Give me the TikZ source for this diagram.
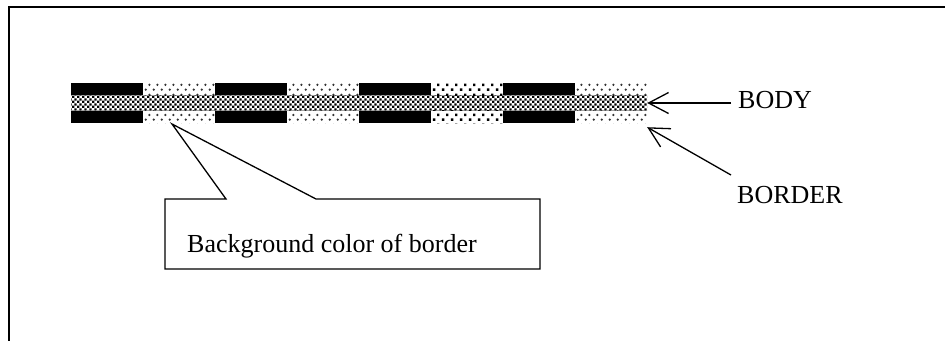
\documentclass[tikz,border=0pt]{standalone}
\usepackage{fontspec}
\setmainfont{Liberation Serif}
\usetikzlibrary{arrows.meta,patterns.meta}

% fine checkerboard of the body band
\tikzdeclarepattern{
  name=bodycheck, type=uncolored,
  bottom left={(0pt,0pt)}, top right={(5.2pt,5.2pt)}, tile size={(5.2pt,5.2pt)},
  code={\fill (0pt,0pt) rectangle (2.6pt,2.6pt);
        \fill (2.6pt,2.6pt) rectangle (5.2pt,5.2pt);}
}
% small soft dots of the border background
\tikzdeclarepattern{
  name=softdots, type=uncolored,
  bottom left={(0pt,0pt)}, top right={(8pt,10pt)}, tile size={(8pt,10pt)},
  code={\fill (2pt,2.5pt) circle (1.35pt);
        \fill (6pt,7.5pt) circle (1.35pt);}
}
% coarse square dots
\tikzdeclarepattern{
  name=squaredots, type=uncolored,
  bottom left={(0pt,0pt)}, top right={(9pt,10pt)}, tile size={(9pt,10pt)},
  code={\fill (1pt,1.2pt) rectangle (3.6pt,3.8pt);
        \fill (5.5pt,6.2pt) rectangle (8.1pt,8.8pt);}
}

\tikzset{
  frame/.style={line width=1.5pt},
  pointer/.style={line width=1.3pt, -{Straight Barb[length=20pt,width=21pt]}},
  callout/.style={line width=1.3pt, line join=miter},
  label/.style={inner sep=0pt, font=\fontsize{26}{30}\selectfont},
  darkbar/.style={fill=black},
  lightbar/.style={pattern={softdots}, pattern color=black!80},
  dotbar/.style={pattern={squaredots}, pattern color=black},
}

\begin{document}
\begin{tikzpicture}[x=1pt, y=-1pt]
  \useasboundingbox (0,0) rectangle (945,341);

  % outer frame (top and left edges)
  \draw[frame] (945,7) -- (9,7) -- (9,341);

  % the strip: alternating border segments above and below the body band
  \node[inner sep=0pt, minimum width=576pt, minimum height=40pt] (strip) at (359,103) {};
  \foreach \x/\kind in {71/darkbar, 143/lightbar, 215/darkbar, 287/lightbar,
                        359/darkbar, 431/dotbar, 503/darkbar, 575/lightbar} {
    \fill[\kind] (\x,83) rectangle ++(72,12);
    \fill[\kind] (\x,110.5) rectangle ++(72,12.5);
  }
  \fill[pattern={bodycheck}, pattern color=black] (71,95) rectangle (647,110.5);

  % labels with their arrows
  \node[label, anchor=base west] (body) at (738,108) {BODY};
  \node[label, anchor=base west] (border) at (737,203) {BORDER};
  \coordinate (bodytail) at (731,103);
  \coordinate (bordertail) at (731,175);
  \draw[pointer] (bodytail) -- (strip.east);
  \draw[pointer] (bordertail) -- ([yshift=-4pt]strip.south east);

  % callout box
  \coordinate (tip) at (172,124);
  \coordinate (baseL) at (226,199);
  \coordinate (baseR) at (316,199);
  \coordinate (boxNE) at (540,199);
  \coordinate (boxSE) at (540,269);
  \coordinate (boxSW) at (165,269);
  \coordinate (boxNW) at (165,199);
  \draw[callout] (boxNW) -- (baseL) -- (tip) -- (baseR) -- (boxNE) -- (boxSE) -- (boxSW) -- cycle;
  \node[label, anchor=base west] (note) at (187,252) {Background color of border};
\end{tikzpicture}
\end{document}
